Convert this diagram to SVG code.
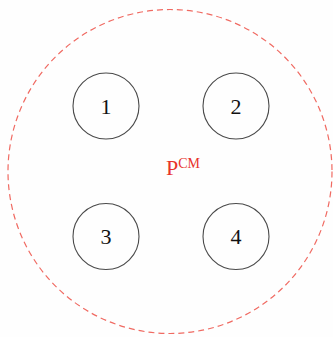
<svg xmlns="http://www.w3.org/2000/svg" width="333" height="337" viewBox="0 0 333 337">
<style>
.node circle{fill:none;stroke:#4a4a4a;stroke-width:1.1}
.node text{font-family:"Liberation Serif",serif;font-size:22px;fill:#111;text-anchor:middle}
.pcm{font-family:"Liberation Serif",serif;fill:#e8332b}
</style>
<rect width="333" height="337" fill="#fefefe"/>
<g id="pcm">
<circle cx="170" cy="171.5" r="162" fill="none" stroke="#f06a62" stroke-width="1.2" stroke-dasharray="6,4"/>
<text class="pcm" x="166" y="175" font-size="22">P<tspan font-size="14" dy="-7">CM</tspan></text>
</g>
<g id="connectors"></g>
<g id="n1" class="node"><circle cx="106" cy="106" r="33"/><text x="106" y="113.5">1</text></g>
<g id="n2" class="node"><circle cx="236" cy="106" r="33"/><text x="236" y="113.5">2</text></g>
<g id="n3" class="node"><circle cx="106" cy="236.5" r="33"/><text x="106" y="244">3</text></g>
<g id="n4" class="node"><circle cx="236" cy="236.5" r="33"/><text x="236" y="244">4</text></g>
</svg>
